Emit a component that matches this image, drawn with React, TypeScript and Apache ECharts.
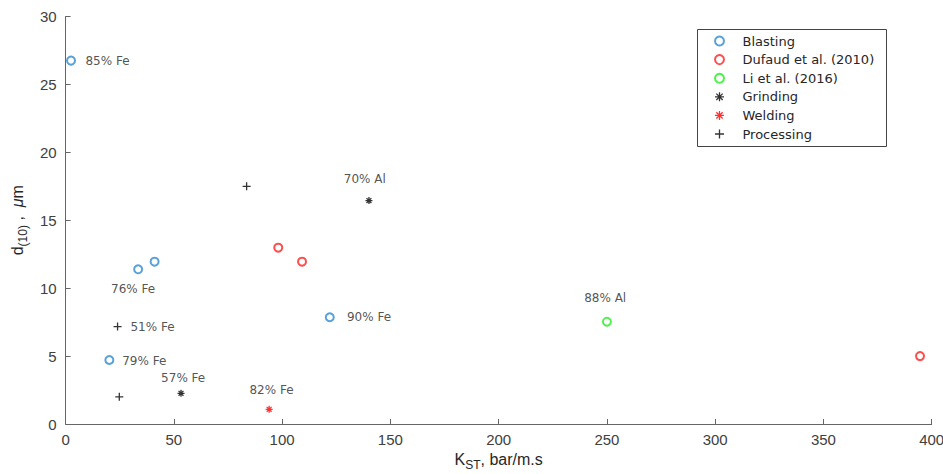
import React, { useEffect, useRef } from "react";
import * as echarts from "echarts";

const blasting: number[][] = [[2.5, 26.75], [33.5, 11.39], [41.1, 11.95], [20.2, 4.71], [122.0, 7.86]];
const dufaud: number[][] = [[98.2, 12.98], [109.2, 11.95], [394.6, 5.0]];
const li: number[][] = [[250.0, 7.53]];
const grinding: number[][] = [[140.1, 16.45], [53.3, 2.26]];
const welding: number[][] = [[94.0, 1.08]];
const processing: number[][] = [[83.6, 17.5], [24.0, 7.17], [24.8, 2.0]];

const leftNotes: [number, number, string][] = [
  [8.95, 26.75, "85% Fe"],
  [29.7, 7.14, "51% Fe"],
  [25.9, 4.66, "79% Fe"],
  [129.7, 7.88, "90% Fe"],
];
const centerNotes: [number, number, string][] = [
  [31.2, 9.94, "76% Fe"],
  [54.3, 3.41, "57% Fe"],
  [95.1, 2.5, "82% Fe"],
  [138.2, 18.02, "70% Al"],
  [249.2, 9.28, "88% Al"],
];

const seriesNames = ["Blasting", "Dufaud et al. (2010)", "Li et al. (2016)", "Grinding", "Welding", "Processing"];
const seriesColors = ["#2f8ad0", "#ff2020", "#22ee22", "#000000", "#ff0000", "#000000"];
const xTicks = { min: 0, max: 400, interval: 50 };
const yTicks = { min: 0, max: 30, interval: 5 };

const FONT = "Liberation Sans, Arial, Helvetica, sans-serif";
const WIDE = "DejaVu Sans, Liberation Sans, sans-serif";
const ASTERISK = "path://M5,0L5,10M0,5L10,5M1.5,1.5L8.5,8.5M1.5,8.5L8.5,1.5";
const PLUS = "path://M5,0L5,10M0,5L10,5";

export default function App() {
  const ref = useRef<HTMLDivElement>(null);
  useEffect(() => {
    if (!ref.current) return;
    const chart = echarts.init(ref.current, undefined, { renderer: "svg" });
    const circleSeries = (i: number, data: number[][]) => ({
      name: seriesNames[i],
      type: "scatter",
      data,
      symbol: "emptyCircle",
      symbolSize: 8,
      itemStyle: { color: seriesColors[i], borderColor: seriesColors[i], borderWidth: 1.5 },
      z: 3,
    });
    const pathSeries = (i: number, data: number[][], sym: string, size: number) => ({
      name: seriesNames[i],
      type: "scatter",
      data,
      symbol: sym,
      symbolSize: size,
      itemStyle: { color: seriesColors[i], borderColor: seriesColors[i], borderWidth: 1.3 },
      z: 3,
    });
    const noteSeries = (data: [number, number, string][], align: string) => ({
      type: "scatter",
      data: data.map((d) => ({ value: [d[0], d[1]], name: d[2] })),
      symbol: "circle",
      symbolSize: 1,
      silent: true,
      itemStyle: { color: "rgba(0,0,0,0)" },
      label: {
        show: true,
        position: align === "left" ? "right" : "inside",
        distance: 0,
        align: align === "left" ? "left" : "center",
        verticalAlign: "middle",
        formatter: (p: any) => p.name,
        fontFamily: WIDE,
        fontSize: 12,
        color: "#262626",
        textBorderWidth: 0,
        textBorderColor: "transparent",
      },
      z: 4,
    });
    const legendItem = (i: number, circle: boolean) => ({
      name: seriesNames[i],
      itemStyle: circle
        ? { color: seriesColors[i], borderColor: seriesColors[i], borderWidth: 1.5 }
        : { color: seriesColors[i], borderColor: seriesColors[i], borderWidth: 1.3 },
    });
    chart.setOption({
      animation: false,
      backgroundColor: "#fff",
      textStyle: { fontFamily: FONT },
      grid: { left: 65.6, right: 11.3, top: 16.5, bottom: 50, containLabel: false, outerBoundsMode: "none" },
      xAxis: {
        type: "value",
        min: xTicks.min,
        max: xTicks.max,
        interval: xTicks.interval,
        name: "{k|K}{s|ST}{n|, bar/m.s}",
        nameLocation: "middle",
        nameGap: 22,
        nameTextStyle: {
          rich: {
            k: { fontSize: 16, lineHeight: 22, color: "#262626", fontFamily: FONT },
            s: { fontSize: 12, lineHeight: 12, verticalAlign: "bottom", color: "#262626", fontFamily: FONT },
            n: { fontSize: 16, lineHeight: 22, color: "#262626", fontFamily: FONT },
          },
        },
        axisLine: { show: true, lineStyle: { color: "#666", width: 1 } },
        axisTick: { show: true, inside: true, length: 5, lineStyle: { color: "#666" } },
        axisLabel: { fontSize: 15, color: "#404040", margin: 8, fontFamily: FONT },
        splitLine: { show: false },
      },
      yAxis: {
        type: "value",
        min: yTicks.min,
        max: yTicks.max,
        interval: yTicks.interval,
        name: "{d|d}{s|(10)}{n| ,  }{m|μ}{n|m}",
        nameLocation: "middle",
        nameRotate: 90,
        nameGap: 37,
        nameTextStyle: {
          rich: {
            d: { fontSize: 16, lineHeight: 22, color: "#262626", fontFamily: FONT },
            s: { fontSize: 12, lineHeight: 12, verticalAlign: "bottom", color: "#262626", fontFamily: FONT },
            n: { fontSize: 16, lineHeight: 22, color: "#262626", fontFamily: FONT },
            m: { fontSize: 16, lineHeight: 22, color: "#262626", fontFamily: FONT, fontStyle: "italic" },
          },
        },
        axisLine: { show: true, lineStyle: { color: "#666", width: 1 } },
        axisTick: { show: true, inside: true, length: 5, lineStyle: { color: "#666" } },
        axisLabel: { fontSize: 15, color: "#404040", margin: 9, fontFamily: FONT },
        splitLine: { show: false },
      },
      graphic: [
        {
          type: "rect",
          shape: { x: 697.5, y: 29.5, width: 189, height: 117 },
          style: { fill: "#fff", stroke: "#444", lineWidth: 1 },
          z: 5,
        },
      ],
      legend: {
        orient: "vertical",
        left: 714,
        top: 34,
        padding: 0,
        itemWidth: 36,
        itemHeight: 9,
        itemGap: 4.6,
        z: 10,
        textStyle: { fontSize: 13, lineHeight: 14, color: "#262626", fontFamily: WIDE },
        data: [
          legendItem(0, true),
          legendItem(1, true),
          legendItem(2, true),
          legendItem(3, false),
          legendItem(4, false),
          legendItem(5, false),
        ],
      },
      series: [
        circleSeries(0, blasting),
        circleSeries(1, dufaud),
        circleSeries(2, li),
        pathSeries(3, grinding, ASTERISK, 7),
        pathSeries(4, welding, ASTERISK, 7),
        pathSeries(5, processing, PLUS, 8),
        noteSeries(leftNotes, "left"),
        noteSeries(centerNotes, "center"),
      ],
    });
    return () => chart.dispose();
  }, []);
  return <div ref={ref} style={{ position: "fixed", left: 0, top: 0, width: 943, height: 474 }} />;
}
